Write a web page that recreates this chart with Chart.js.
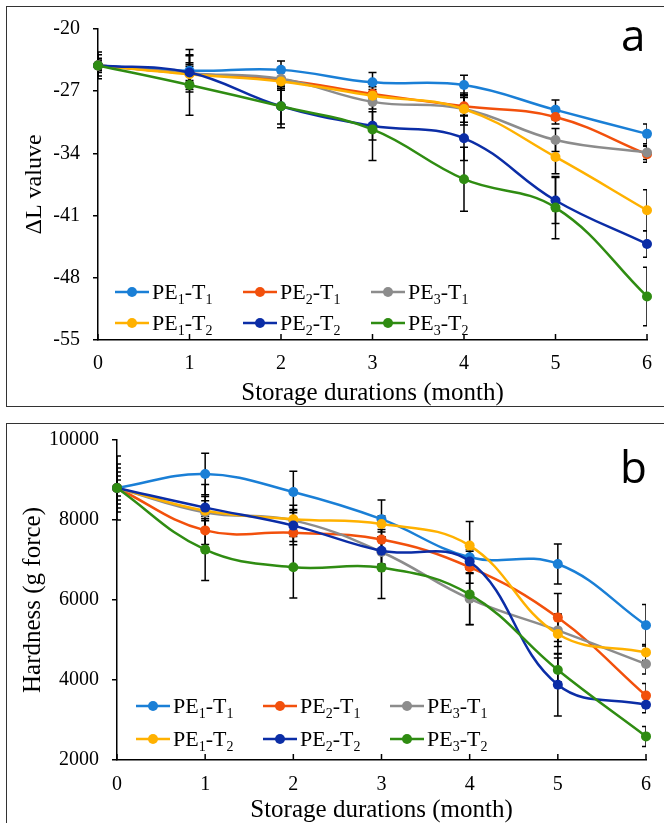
<!DOCTYPE html>
<html>
<head>
<meta charset="utf-8">
<script src="https://cdn.jsdelivr.net/npm/chart.js@4"></script>
<style>
  body { margin: 0; width: 664px; height: 823px; overflow: hidden; background: #fff; position: relative; }
  .box { position: absolute; left: 6px; width: 720px; border: 1.5px solid #333; }
  #boxA { top: 6px; height: 399px; }
  #boxB { top: 423px; height: 440px; }
  .wrap { position: absolute; left: 0; width: 664px; }
  .tag { position: absolute; font-family: "Open Sans", sans-serif; font-size: 44px; color: #000; line-height: 1; }
</style>
</head>
<body>
<div class="box" id="boxA"></div>
<div class="box" id="boxB"></div>
<div class="wrap" style="top:0; height:410px;"><canvas id="chartA"></canvas></div>
<div class="wrap" style="top:415px; height:420px;"><canvas id="chartB"></canvas></div>
<div class="tag" style="left:621px; top:12px;">a</div>
<div class="tag" style="left:620px; top:444px;">b</div>
<script>
// Storage months (x axis)
const months = [0, 1, 2, 3, 4, 5, 6];

// series names, PE number and T number (drawn as subscripts)
const seriesLabels = ["PE\u2081-T\u2081", "PE\u2082-T\u2081", "PE\u2083-T\u2081", "PE\u2081-T\u2082", "PE\u2082-T\u2082", "PE\u2083-T\u2082"];
const peSub = ["1", "2", "3", "1", "2", "3"];
const tSub = ["1", "1", "1", "2", "2", "2"];
const colors = ["#1a7fd6", "#f2500c", "#8c8c8c", "#ffb100", "#0b2da6", "#2f8c12"];

// panel a - delta L value
const dlPE1T1 = [-24.1, -24.7, -24.6, -26.0, -26.3, -29.1, -31.8];
const dlPE2T1 = [-24.1, -25.0, -25.7, -27.3, -28.7, -29.9, -34.1];
const dlPE3T1 = [-24.1, -25.0, -25.6, -28.2, -29.0, -32.5, -33.9];
const dlPE1T2 = [-24.1, -25.1, -25.9, -27.5, -29.0, -34.4, -40.4];
const dlPE2T2 = [-24.1, -24.9, -28.7, -30.9, -32.3, -39.3, -44.2];
const dlPE3T2 = [-24.1, -26.3, -28.7, -31.3, -36.9, -40.1, -50.1];

// panel a - error bars (+/-)
const dlErrPE1T1 = [0.5, 2.4, 1.0, 1.1, 1.1, 1.1, 1.1];
const dlErrPE2T1 = [0.8, 1.0, 1.0, 0.8, 1.0, 0.8, 0.9];
const dlErrPE3T1 = [1.5, 0.8, 0.9, 0.8, 1.8, 1.3, 0.8];
const dlErrPE1T2 = [0.3, 1.3, 1.0, 0.7, 1.5, 1.9, 2.3];
const dlErrPE2T2 = [1.2, 1.9, 2.0, 1.6, 2.5, 2.6, 1.5];
const dlErrPE3T2 = [0.6, 3.4, 2.4, 3.5, 3.6, 3.5, 3.3];

// panel b - hardness (g force)
const hdPE1T1 = [8800, 9150, 8700, 8020, 7070, 6900, 5370];
const hdPE2T1 = [8800, 7740, 7680, 7510, 6820, 5560, 3610];
const hdPE3T1 = [8800, 8190, 7990, 7200, 6030, 5240, 4400];
const hdPE1T2 = [8800, 8230, 8020, 7900, 7360, 5150, 4690];
const hdPE2T2 = [8800, 8310, 7860, 7230, 6960, 3880, 3380];
const hdPE3T2 = [8800, 7260, 6820, 6810, 6140, 4250, 2590];

// panel b - error bars (+/-)
const hdErrPE1T1 = [300, 520, 520, 480, 300, 500, 520];
const hdErrPE2T1 = [500, 350, 300, 250, 400, 600, 300];
const hdErrPE3T1 = [800, 400, 250, 300, 650, 400, 250];
const hdErrPE1T2 = [400, 250, 350, 200, 600, 500, 200];
const hdErrPE2T2 = [200, 580, 400, 350, 300, 780, 200];
const hdErrPE3T2 = [600, 770, 770, 770, 750, 300, 250];

const serif = "'Liberation Serif', 'Times New Roman', serif";

function makeSets(values, errs) {
  return values.map((vals, i) => ({
    label: seriesLabels[i],
    data: months.map((m, j) => ({ x: m, y: vals[j] })),
    errors: errs[i],
    borderColor: colors[i],
    backgroundColor: colors[i],
    borderWidth: 2.5,
    pointRadius: 5,
    pointHoverRadius: 5,
    pointBorderWidth: 0,
    tension: 0.4,
    clip: false,
    order: 5 - i
  }));
}

// error bars, drawn under the lines, clipped left/right to the plot
const errorBars = {
  id: 'errorBars',
  beforeDatasetsDraw(chart) {
    const { ctx, chartArea, scales: { x, y } } = chart;
    ctx.save();
    ctx.beginPath();
    ctx.rect(chartArea.left, 0, chartArea.right - chartArea.left, chart.height);
    ctx.clip();
    ctx.strokeStyle = '#000';
    ctx.lineWidth = 1.5;
    chart.data.datasets.forEach(ds => {
      ds.data.forEach((p, j) => {
        const e = ds.errors[j];
        const px = x.getPixelForValue(p.x);
        const top = y.getPixelForValue(p.y + e);
        const bot = y.getPixelForValue(p.y - e);
        ctx.beginPath();
        ctx.moveTo(px, top); ctx.lineTo(px, bot);
        ctx.moveTo(px - 4, top); ctx.lineTo(px + 4, top);
        ctx.moveTo(px - 4, bot); ctx.lineTo(px + 4, bot);
        ctx.stroke();
      });
    });
    ctx.restore();
  }
};

// small tick marks pointing up into the plot on the x axis
const innerTicks = {
  id: 'innerTicks',
  afterDraw(chart) {
    const { ctx, chartArea, scales: { x } } = chart;
    ctx.save();
    ctx.strokeStyle = '#000';
    ctx.lineWidth = 1.5;
    x.ticks.forEach(t => {
      const px = x.getPixelForValue(t.value);
      ctx.beginPath();
      ctx.moveTo(px, chartArea.bottom);
      ctx.lineTo(px, chartArea.bottom - 6);
      ctx.stroke();
    });
    ctx.restore();
  }
};

// legend inside the plot with subscripts
const subLegend = {
  id: 'subLegend',
  afterDraw(chart, args, opts) {
    const { ctx, chartArea } = chart;
    chart.data.datasets.forEach((ds, i) => {
      const col = i % 3, row = Math.floor(i / 3);
      const x0 = chartArea.left + opts.left + col * opts.colStep;
      const y0 = chartArea.bottom - opts.rows[row];
      ctx.save();
      ctx.strokeStyle = ds.borderColor;
      ctx.lineWidth = 2.5;
      ctx.beginPath(); ctx.moveTo(x0, y0); ctx.lineTo(x0 + 34, y0); ctx.stroke();
      ctx.fillStyle = ds.borderColor;
      ctx.beginPath(); ctx.arc(x0 + 17, y0, 5, 0, Math.PI * 2); ctx.fill();
      let tx = x0 + 37;
      const base = y0 + 7;
      ctx.fillStyle = '#000';
      ctx.textBaseline = 'alphabetic';
      const parts = [['PE', false], [peSub[i], true], ['-T', false], [tSub[i], true]];
      parts.forEach(([s, sub]) => {
        ctx.font = sub ? '14px ' + serif : '22px ' + serif;
        ctx.fillText(s, tx, base + (sub ? 5 : 0));
        tx += ctx.measureText(s).width;
      });
      ctx.restore();
    });
  }
};

function makeOptions(cfg) {
  return {
    responsive: true,
    maintainAspectRatio: false,
    animation: false,
    layout: { padding: { top: cfg.top, right: cfg.right, left: 0, bottom: 0 } },
    plugins: {
      legend: { display: false },
      tooltip: { enabled: false },
      subLegend: cfg.legend
    },
    scales: {
      x: {
        type: 'linear',
        min: 0, max: 6,
        ticks: { stepSize: 1, color: '#000', font: { family: serif, size: 20 }, padding: cfg.xPad },
        grid: { display: false, drawTicks: false },
        border: { display: true, color: '#000', width: 1.5 },
        title: { display: true, text: 'Storage durations (month)', color: '#000',
                 font: { family: serif, size: 25 }, padding: { top: 0, bottom: cfg.xTitlePad } },
        afterFit(scale) { scale.height = cfg.xHeight; }
      },
      y: {
        min: cfg.yMin, max: cfg.yMax,
        ticks: { stepSize: cfg.yStep, color: '#000', font: { family: serif, size: 20 }, padding: 13,
                 callback: v => String(v) },
        grid: { display: true, drawOnChartArea: false, drawTicks: true, tickLength: 5, color: '#000', lineWidth: 1.5 },
        border: { display: true, color: '#000', width: 1.5 },
        title: { display: true, text: cfg.yTitle, color: '#000',
                 font: { family: serif, size: cfg.yTitleSize }, padding: { top: cfg.yTitlePad, bottom: 0 } },
        afterFit(scale) { scale.width = cfg.yWidth; }
      }
    }
  };
}

new Chart(document.getElementById('chartA'), {
  type: 'line',
  data: {
    datasets: makeSets(
      [dlPE1T1, dlPE2T1, dlPE3T1, dlPE1T2, dlPE2T2, dlPE3T2],
      [dlErrPE1T1, dlErrPE2T1, dlErrPE3T1, dlErrPE1T2, dlErrPE2T2, dlErrPE3T2])
  },
  options: makeOptions({
    top: 29, right: 8, yWidth: 98, xHeight: 70, xPad: 12, xTitlePad: 2,
    yMin: -55, yMax: -20, yStep: 7, yTitle: '\u0394L valuve', yTitleSize: 24, yTitlePad: 20,
    legend: { left: 17, colStep: 128, rows: [48, 17] }
  }),
  plugins: [errorBars, innerTicks, subLegend]
});

new Chart(document.getElementById('chartB'), {
  type: 'line',
  data: {
    datasets: makeSets(
      [hdPE1T1, hdPE2T1, hdPE3T1, hdPE1T2, hdPE2T2, hdPE3T2],
      [hdErrPE1T1, hdErrPE2T1, hdErrPE3T1, hdErrPE1T2, hdErrPE2T2, hdErrPE3T2])
  },
  options: makeOptions({
    top: 24, right: 12, yWidth: 117, xHeight: 75, xPad: 13, xTitlePad: 10,
    yMin: 2000, yMax: 10000, yStep: 2000, yTitle: 'Hardness (g force)', yTitleSize: 25, yTitlePad: 18,
    legend: { left: 19, colStep: 127, rows: [54, 21] }
  }),
  plugins: [errorBars, innerTicks, subLegend]
});
</script>
</body>
</html>
